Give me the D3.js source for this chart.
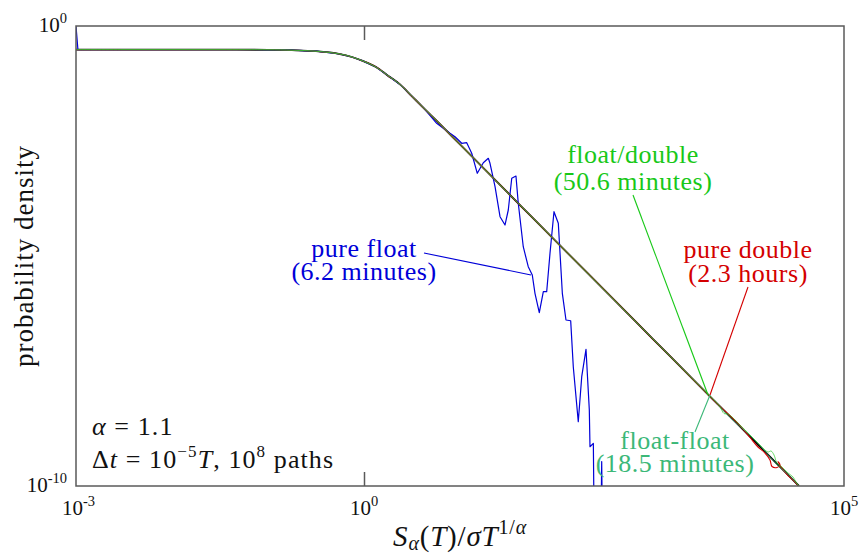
<!DOCTYPE html>
<html>
<head>
<meta charset="utf-8">
<script src="https://cdn.jsdelivr.net/npm/d3@7"></script>
<style>
  html, body { margin: 0; padding: 0; background: #fff; }
  svg { display: block; }
</style>
</head>
<body>
<svg id="chart" width="859" height="553" font-family="'Liberation Serif', 'DejaVu Serif', serif"></svg>
<script>
// ---- data (log10 of abscissa, log10 of density) ----
// exact stable density, alpha = 1.1
const bodyLogX = [-3, -2.5, -2, -1.5, -1, -0.75, -0.5, -0.25, -0.125, 0, 0.125, 0.25, 0.375, 0.5, 0.625, 0.75, 1, 1.25, 1.5, 1.75, 2, 2.5, 3, 3.5, 3.7];
const bodyLogY = [-0.513, -0.513, -0.513, -0.514, -0.517, -0.526, -0.548, -0.609, -0.674, -0.770, -0.893, -1.08, -1.27, -1.53, -1.79, -2.047, -2.575, -3.10, -3.629, -4.155, -4.682, -5.733, -6.783, -7.833, -8.253];
const exactTailLogX = [3.9, 4.1, 4.3, 4.531];
const exactTailLogY = [-8.673, -9.093, -9.513, -10.0];

// pure double tail
const doubleTailLogX = [3.917, 4.021, 4.104, 4.177, 4.229, 4.25, 4.302, 4.333, 4.3125, 4.344, 4.417, 4.479, 4.531];
const doubleTailLogY = [-8.685, -8.946, -9.152, -9.283, -9.435, -9.576, -9.598, -9.543, -9.467, -9.587, -9.772, -9.891, -10.011];

// float/double tail
const floatDoubleTailLogX = [3.75, 3.792, 3.917, 4.021, 4.125, 4.208, 4.24, 4.271, 4.302, 4.354, 4.417, 4.469, 4.5, 4.531];
const floatDoubleTailLogY = [-8.424, -8.435, -8.674, -8.891, -9.109, -9.261, -9.239, -9.326, -9.5, -9.587, -9.717, -9.804, -9.913, -10.0];

// float-float tail
const floatFloatTailLogX = [3.8125, 4.073, 4.281, 4.4375, 4.531];
const floatFloatTailLogY = [-8.51, -9.0, -9.49, -9.79, -10.0];

// pure float: start spike, shared body up to 0.625, then the noisy part
const pureFloatHeadLogX = [-3, -2.98];
const pureFloatHeadLogY = [0, -0.513];
const pureFloatLogX = [0.757, 0.896, 0.948, 1.018, 1.070, 1.122, 1.180, 1.243, 1.295, 1.3125, 1.365, 1.417, 1.469, 1.503, 1.539, 1.583, 1.607, 1.659, 1.711, 1.753, 1.781, 1.826, 1.868, 1.903, 1.9375, 1.979, 2.024, 2.066, 2.104, 2.153, 2.180, 2.232, 2.268, 2.3125, 2.347, 2.354, 2.389, 2.396, 2.47, 2.476, 2.482];
const pureFloatLogY = [-2.115, -2.333, -2.407, -2.550, -2.537, -2.767, -3.202, -2.972, -2.876, -2.985, -3.493, -4.146, -4.326, -4.0, -3.311, -3.261, -3.854, -4.798, -5.233, -5.413, -5.811, -6.233, -5.776, -5.776, -4.941, -4.037, -4.289, -5.811, -6.391, -6.407, -7.407, -8.602, -7.624, -7.028, -8.348, -9.146, -9.072, -10.6, -10.6, -9.47, -10.6];

// axis tick labels: [value, exponent text]
const xTicks = [[1e-3, "-3"], [1e0, "0"], [1e5, "5"]];
const yTicks = [[1e0, "0"], [1e-10, "-10"]];

const colors = {
  exact: "#000000",
  pureFloat: "#0000d8",
  pureDouble: "#d40000",
  floatDouble: "#18c818",
  floatFloat: "#3cb878"
};

// ---- layout ----
const svg = d3.select("#chart");
const plotLeft = 76, plotRight = 844, plotTop = 26, plotBottom = 486;

const x = d3.scaleLog().domain([1e-3, 1e5]).range([plotLeft, plotRight]);
const y = d3.scaleLog().domain([1e-10, 1]).range([plotBottom, plotTop]);

const toPoints = (lx, ly) => lx.map((v, i) => [Math.pow(10, v), Math.pow(10, ly[i])]);
const body = toPoints(bodyLogX, bodyLogY);
const bodyUpTo = lim => body.filter(d => Math.log10(d[0]) <= lim + 1e-9);

const seriesExact = body.concat(toPoints(exactTailLogX, exactTailLogY));
const seriesDouble = bodyUpTo(3.7).concat(toPoints(doubleTailLogX, doubleTailLogY));
const seriesFloatDouble = bodyUpTo(3.7).concat(toPoints(floatDoubleTailLogX, floatDoubleTailLogY));
const seriesFloatFloat = bodyUpTo(3.7).concat(toPoints(floatFloatTailLogX, floatFloatTailLogY));
const seriesFloat = toPoints(pureFloatHeadLogX, pureFloatHeadLogY)
  .concat(bodyUpTo(0.625).slice(1))
  .concat(toPoints(pureFloatLogX, pureFloatLogY));

svg.append("defs").append("clipPath").attr("id", "plotclip")
  .append("rect").attr("x", plotLeft).attr("y", plotTop)
  .attr("width", plotRight - plotLeft).attr("height", plotBottom - plotTop);

const smooth = d3.line().x(d => x(d[0])).y(d => y(d[1])).curve(d3.curveCatmullRom.alpha(0.5));
const jagged = d3.line().x(d => x(d[0])).y(d => y(d[1]));

// exact curve and pure float underneath, the mixed-precision runs over them
const plot = svg.append("g").attr("clip-path", "url(#plotclip)");
plot.append("path").datum(seriesExact).attr("d", smooth)
  .attr("fill", "none").attr("stroke", colors.exact).attr("stroke-width", 1.8);
plot.append("path").datum(seriesFloat).attr("d", jagged)
  .attr("fill", "none").attr("stroke", colors.pureFloat).attr("stroke-width", 1.2)
  .attr("stroke-linejoin", "round");
plot.append("path").datum(seriesDouble).attr("d", smooth)
  .attr("fill", "none").attr("stroke", colors.pureDouble).attr("stroke-width", 1.1);
plot.append("path").datum(seriesFloatFloat).attr("d", smooth)
  .attr("fill", "none").attr("stroke", colors.floatFloat).attr("stroke-width", 1.0).attr("stroke-opacity", 0.7);
plot.append("path").datum(seriesFloatDouble).attr("d", smooth)
  .attr("fill", "none").attr("stroke", colors.floatDouble).attr("stroke-width", 0.9).attr("stroke-opacity", 0.7);

// ---- frame and ticks ----
const frameColor = "#5a5a5a";
svg.append("rect").attr("x", plotLeft).attr("y", plotTop)
  .attr("width", plotRight - plotLeft).attr("height", plotBottom - plotTop)
  .attr("fill", "none").attr("stroke", frameColor).attr("stroke-width", 1.5);

const tickAxisBottom = d3.axisBottom(x).tickValues([1]).tickSizeInner(-14).tickSizeOuter(0).tickFormat("");
const tickAxisTop = d3.axisTop(x).tickValues([1]).tickSizeInner(-14).tickSizeOuter(0).tickFormat("");
[[tickAxisBottom, plotBottom], [tickAxisTop, plotTop]].forEach(([ax, ty]) => {
  const g = svg.append("g").attr("transform", `translate(0,${ty})`).call(ax);
  g.select(".domain").remove();
  g.selectAll("line").attr("stroke", frameColor).attr("stroke-width", 1.5);
});

function powerLabel(g, px, py, exp, anchor) {
  const t = g.append("text").attr("x", px).attr("y", py).attr("text-anchor", anchor)
    .attr("font-size", 21).attr("fill", "#111");
  t.append("tspan").text("10");
  t.append("tspan").attr("dy", -9).attr("font-size", 14.5).text(exp);
  return t;
}
const labels = svg.append("g");
xTicks.forEach(([v, e]) => powerLabel(labels, x(v) - 14, 515, e, "start"));
yTicks.forEach(([v, e]) => powerLabel(labels, 67, y(v) + 6, e, "end"));

// axis titles
svg.append("text")
  .attr("transform", `translate(33,${(plotTop + plotBottom) / 2}) rotate(-90)`)
  .attr("text-anchor", "middle").attr("font-size", 27).attr("letter-spacing", 1.0).attr("fill", "#111")
  .text("probability density");

const xt = svg.append("text").attr("x", (plotLeft + plotRight) / 2).attr("y", 546)
  .attr("text-anchor", "middle").attr("font-size", 29).attr("letter-spacing", 0.8).attr("fill", "#111");
xt.append("tspan").attr("font-style", "italic").text("S");
xt.append("tspan").attr("font-style", "italic").attr("font-size", 20).attr("dy", 4).text("α");
xt.append("tspan").attr("dy", -4).text("(");
xt.append("tspan").attr("font-style", "italic").text("T");
xt.append("tspan").text(")/");
xt.append("tspan").attr("font-style", "italic").text("σT");
xt.append("tspan").attr("font-size", 20).attr("dy", -12).text("1/");
xt.append("tspan").attr("font-size", 20).attr("font-style", "italic").text("α");

// ---- parameter note ----
const noteSize = 26, noteSpacing = 1.1;
const note1 = svg.append("text").attr("x", 92).attr("y", 435)
  .attr("font-size", noteSize).attr("letter-spacing", noteSpacing).attr("fill", "#111");
note1.append("tspan").attr("font-style", "italic").text("α");
note1.append("tspan").text(" = 1.1");
const note2 = svg.append("text").attr("x", 92).attr("y", 468)
  .attr("font-size", noteSize).attr("letter-spacing", noteSpacing).attr("fill", "#111");
note2.append("tspan").text("Δ");
note2.append("tspan").attr("font-style", "italic").text("t");
note2.append("tspan").text(" = 10");
note2.append("tspan").attr("font-size", 17).attr("dy", -11).text("−5");
note2.append("tspan").attr("dy", 11).attr("font-style", "italic").text("T");
note2.append("tspan").text(", 10");
note2.append("tspan").attr("font-size", 17).attr("dy", -11).text("8");
note2.append("tspan").attr("dy", 11).text(" paths");

// ---- series callouts ----
const callouts = [
  { lines: ["pure float", "(6.2 minutes)"], cx: 364, y0: 257, gap: 22.5, color: colors.pureFloat, from: [424, 253], to: [531, 275] },
  { lines: ["float/double", "(50.6 minutes)"], cx: 633, y0: 163, gap: 26.5, color: colors.floatDouble, from: [633, 195], to: [708, 395] },
  { lines: ["pure double", "(2.3 hours)"], cx: 748, y0: 258, gap: 23.5, color: colors.pureDouble, from: [748, 287], to: [710, 395] },
  { lines: ["float-float", "(18.5 minutes)"], cx: 675, y0: 449, gap: 23, color: colors.floatFloat, from: [695, 432], to: [710, 395] }
];
callouts.forEach(c => {
  svg.append("line").attr("x1", c.from[0]).attr("y1", c.from[1]).attr("x2", c.to[0]).attr("y2", c.to[1])
    .attr("stroke", c.color).attr("stroke-width", 1.1);
  const t = svg.append("text").attr("y", c.y0).attr("text-anchor", "middle")
    .attr("font-size", 26).attr("letter-spacing", 0.5).attr("fill", c.color);
  c.lines.forEach((s, i) => {
    t.append("tspan").attr("x", c.cx).attr("dy", i === 0 ? 0 : c.gap).text(s);
  });
});
</script>
</body>
</html>
